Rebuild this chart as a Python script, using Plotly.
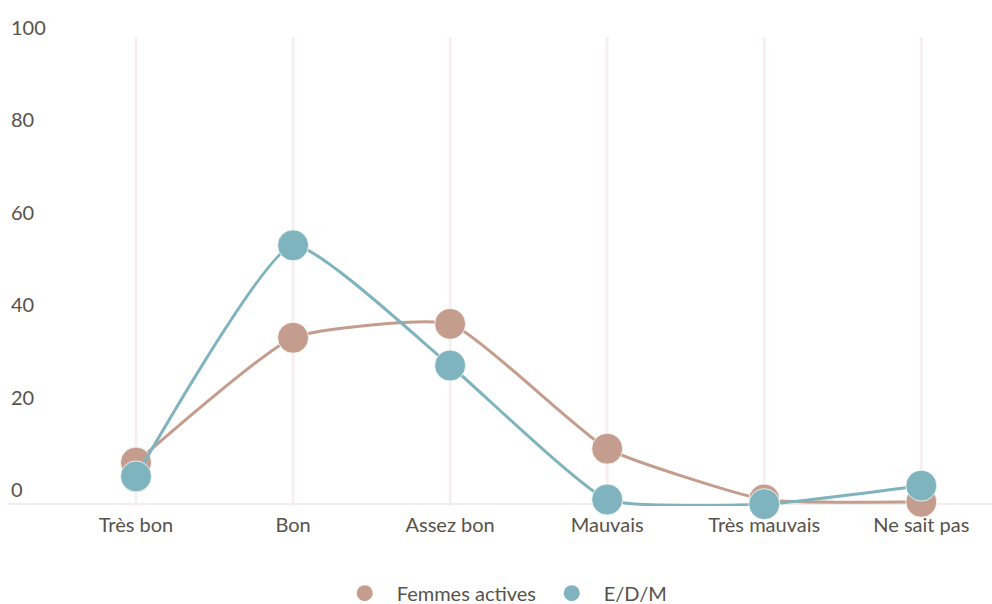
import plotly.graph_objects as go

# Categories on the x axis
categories = ["Très bon", "Bon", "Assez bon", "Mauvais", "Très mauvais", "Ne sait pas"]

# Series values (%)
femmes_actives = [9, 36, 39, 12, 1, 0.5]
edm = [6, 56, 30, 1, 0, 4]

# Y tick values
y_ticks = [0, 20, 40, 60, 80, 100]

series = [
    ("Femmes actives", femmes_actives, "#c49d8e"),
    ("E/D/M", edm, "#7fb3bd"),
]

FONT = "Lato, 'Open Sans', sans-serif"
TEXT = "#57524c"
Y_MIN, Y_MAX = -0.4, 108
GRID_TOP = 101.1

fig = go.Figure()

for name, values, color in series:
    fig.add_trace(go.Scatter(
        x=categories, y=values, name=name,
        mode="lines+markers",
        line=dict(color=color, width=3, shape="spline", smoothing=0.45),
        marker=dict(size=31, color=color, line=dict(color="rgba(255,255,255,0.8)", width=1)),
        cliponaxis=False,
        showlegend=False,
        hoverinfo="x+y+name",
    ))

# Legend entries shown as plain circles
for name, values, color in series:
    fig.add_trace(go.Scatter(
        x=[None], y=[None], name=name, mode="markers",
        marker=dict(size=24, color=color),
        showlegend=True,
    ))

# Vertical category grid lines, stopping just above the 100 level
for cat in categories:
    fig.add_shape(
        type="line", xref="x", yref="y",
        x0=cat, x1=cat, y0=Y_MIN, y1=GRID_TOP,
        line=dict(color="#f6efef", width=3),
        layer="below",
    )

fig.update_layout(
    width=992, height=604,
    margin=dict(l=8, r=0, t=5, b=98),
    paper_bgcolor="white", plot_bgcolor="white",
    font=dict(family=FONT, size=20, color=TEXT),
    legend=dict(
        orientation="h", x=0.330, xanchor="left",
        yref="container", y=0.018, yanchor="middle",
        itemwidth=54,
        entrywidth=138,
        font=dict(family=FONT, size=20, color=TEXT),
        itemsizing="trace",
    ),
    xaxis=dict(
        type="category",
        range=[-0.815, 5.45],
        showgrid=False,
        showline=False, zeroline=False,
        ticks="outside", ticklen=1, tickcolor="rgba(0,0,0,0)",
        tickfont=dict(family=FONT, size=20, color=TEXT),
        fixedrange=True,
    ),
    yaxis=dict(
        range=[Y_MIN, Y_MAX],
        tickvals=y_ticks,
        showgrid=False,
        zeroline=True, zerolinecolor="#efefef", zerolinewidth=2,
        ticklabelposition="inside top",
        tickfont=dict(family=FONT, size=20, color=TEXT),
        fixedrange=True,
    ),
)

fig.write_html("out.html")
